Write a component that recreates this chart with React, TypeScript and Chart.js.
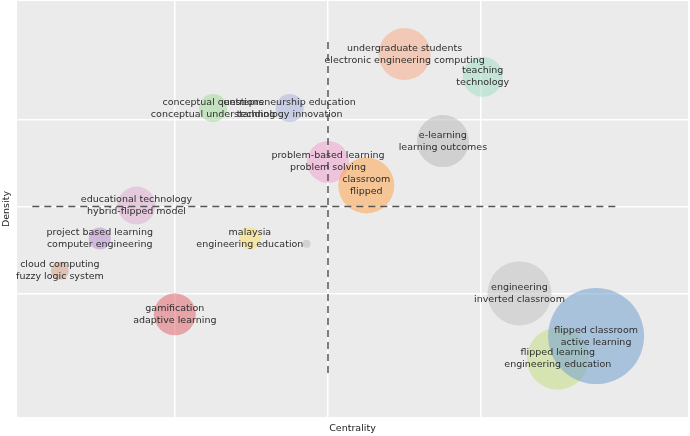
import React, { useEffect, useRef } from "react";
import { Chart, registerables } from "chart.js";

Chart.register(...registerables);

// Thematic map: centrality (x) vs density (y), bubble size = cluster weight
const line1 = [
  "undergraduate students", "teaching", "conceptual questions", "entrepreneurship education",
  "e-learning", "problem-based learning", "classroom", "educational technology",
  "project based learning", "cloud computing", "malaysia", "", "gamification",
  "engineering", "flipped learning", "flipped classroom",
];
const line2 = [
  "electronic engineering computing", "technology", "conceptual understanding", "technology innovation",
  "learning outcomes", "problem solving", "flipped", "hybrid-flipped model",
  "computer engineering", "fuzzy logic system", "engineering education", "", "adaptive learning",
  "inverted classroom", "engineering education", "active learning",
];
const centrality = [0.5, 1.01, -0.75, -0.25, 0.75, 0.0, 0.25, -1.25, -1.49, -1.75, -0.51, -0.14, -1.0, 1.25, 1.5, 1.75];
const density = [1.75, 1.49, 1.13, 1.13, 0.75, 0.51, 0.24, 0.01, -0.37, -0.74, -0.37, -0.43, -1.24, -1.0, -1.75, -1.49];
const weight = [26, 20, 14, 14, 26, 21, 28, 19, 11, 9, 11, 4, 21, 32, 31, 48];
const palette = [
  "rgba(248,171,139,0.55)", "rgba(164,222,199,0.55)", "rgba(164,219,155,0.55)", "rgba(173,181,222,0.55)",
  "rgba(185,185,185,0.55)", "rgba(240,162,208,0.55)", "rgba(253,166,81,0.55)", "rgba(224,174,211,0.55)",
  "rgba(188,144,208,0.55)", "rgba(208,163,134,0.55)", "rgba(248,224,110,0.55)", "rgba(200,200,200,0.7)",
  "rgba(226,106,113,0.55)", "rgba(195,195,195,0.55)", "rgba(197,222,135,0.55)", "rgba(115,160,208,0.55)",
];
const xTicks = [-1, 0, 1];
const yTicks = [-1, 0, 1];
const xRange = [-2.03, 2.35];
const yRange = [-2.42, 2.36];
const hLine = [{ x: -1.93, y: 0 }, { x: 1.9, y: 0 }];
const vLine = [{ x: 0, y: 1.89 }, { x: 0, y: -1.94 }];

const FONT = "'DejaVu Sans', Verdana, sans-serif";

const panelBg = {
  id: "panelBg",
  beforeDraw(chart: any) {
    const { ctx, chartArea: a } = chart;
    ctx.save();
    ctx.fillStyle = "#ebebeb";
    ctx.fillRect(a.left, a.top, a.right - a.left, a.bottom - a.top);
    ctx.restore();
  },
};

const labelsPlugin = {
  id: "bubbleLabels",
  afterDatasetsDraw(chart: any) {
    const { ctx, scales } = chart;
    ctx.save();
    ctx.font = `9.5px ${FONT}`;
    ctx.fillStyle = "#2e2e2e";
    ctx.textAlign = "center";
    ctx.textBaseline = "middle";
    for (let i = 0; i < centrality.length; i++) {
      const px = scales.x.getPixelForValue(centrality[i]);
      const py = scales.y.getPixelForValue(density[i]);
      if (line1[i]) ctx.fillText(line1[i], px, py - 6);
      if (line2[i]) ctx.fillText(line2[i], px, py + 6);
    }
    // axis titles
    const a = chart.chartArea;
    ctx.fillStyle = "#222222";
    ctx.font = `9.5px ${FONT}`;
    ctx.fillText("Centrality", (a.left + a.right) / 2, a.bottom + 12);
    ctx.translate(7, (a.top + a.bottom) / 2);
    ctx.rotate(-Math.PI / 2);
    ctx.fillText("Density", 0, 0);
    ctx.restore();
  },
};

export default function App() {
  const ref = useRef<HTMLCanvasElement | null>(null);
  useEffect(() => {
    document.body.style.margin = "0";
    const chart = new Chart(ref.current as HTMLCanvasElement, {
      type: "bubble",
      data: {
        datasets: [
          {
            type: "line",
            data: hLine,
            borderColor: "#555555",
            borderWidth: 1.5,
            borderDash: [7, 5],
            pointRadius: 0,
            fill: false,
            order: 0,
          } as any,
          {
            type: "line",
            data: vLine,
            borderColor: "#555555",
            borderWidth: 1.5,
            borderDash: [7, 5],
            pointRadius: 0,
            fill: false,
            order: 0,
          } as any,
          {
            type: "bubble",
            data: centrality.map((x, i) => ({ x, y: density[i], r: weight[i] })),
            backgroundColor: palette,
            borderWidth: 0,
            order: 1,
          },
        ],
      },
      options: {
        animation: false,
        responsive: false,
        maintainAspectRatio: false,
        layout: { autoPadding: false, padding: { left: 17, right: 2, top: 1, bottom: 19 } },
        plugins: { legend: { display: false }, tooltip: { enabled: false } },
        scales: {
          x: {
            type: "linear",
            min: xRange[0],
            max: xRange[1],
            afterBuildTicks: (s: any) => { s.ticks = xTicks.map((v) => ({ value: v })); },
            ticks: { display: false },
            grid: { color: "#ffffff", lineWidth: 1.5, drawTicks: false },
            border: { display: false },
          },
          y: {
            type: "linear",
            min: yRange[0],
            max: yRange[1],
            afterBuildTicks: (s: any) => { s.ticks = yTicks.map((v) => ({ value: v })); },
            ticks: { display: false },
            grid: { color: "#ffffff", lineWidth: 1.5, drawTicks: false },
            border: { display: false },
          },
        },
      },
      plugins: [panelBg, labelsPlugin],
    });
    return () => chart.destroy();
  }, []);
  return (
    <div style={{ position: "absolute", left: 0, top: 0, width: 690, height: 436, background: "#fff" }}>
      <canvas ref={ref} width={690} height={436} style={{ width: 690, height: 436 }} />
    </div>
  );
}
